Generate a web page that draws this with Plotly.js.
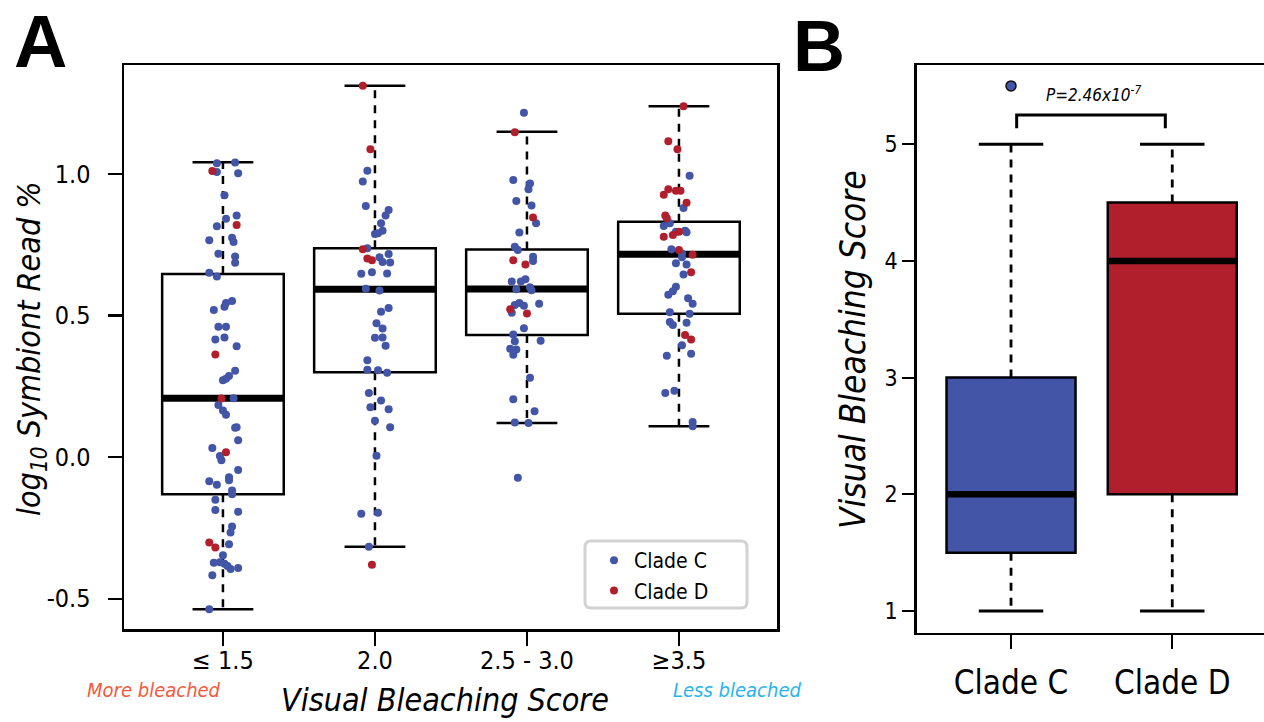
<!DOCTYPE html>
<html><head><meta charset="utf-8">
<script src="https://cdn.plot.ly/plotly-3.0.1.min.js"></script>
<style>html,body{margin:0;padding:0;background:#fff}#chart{width:1264px;height:722px}</style>
</head><body><div id="chart"></div>
<script>
// ---------- Panel A data ----------
const categories = ['≤ 1.5', '2.0', '2.5 - 3.0', '≥3.5'];
const boxQ1 = [-0.131, 0.299, 0.431, 0.506];
const boxMedian = [0.208, 0.592, 0.593, 0.716];
const boxQ3 = [0.646, 0.737, 0.733, 0.831];
const whiskerLow = [-0.537, -0.317, 0.120, 0.109];
const whiskerHigh = [1.041, 1.311, 1.148, 1.238];

// Clade C samples (log10 symbiont read %), with horizontal jitter
const cladeC_g1 = [1.037,1.040,1.006,1.002,0.924,0.853,0.841,0.815,0.774,0.765,0.759,0.718,0.708,0.686,0.651,0.637,0.551,0.544,0.531,0.519,0.460,0.460,0.415,0.422,0.391,0.305,0.286,0.276,0.271,0.208,0.184,0.164,0.149,0.103,0.105,0.059,0.032,0.004,-0.011,-0.046,-0.085,-0.071,-0.082,-0.098,-0.118,-0.131,-0.151,-0.187,-0.193,-0.245,-0.266,-0.308,-0.347,-0.373,-0.371,-0.377,-0.385,-0.395,-0.392,-0.417,-0.537];
const cladeC_g1_jitter = [-0.04,0.08,-0.04,0.10,0.01,0.09,0.02,-0.04,0.06,-0.09,0.07,-0.03,0.08,0.08,-0.09,-0.04,0.06,0.02,0.01,-0.06,-0.03,0.02,-0.05,0.01,0.09,0.08,0.04,0.02,0.00,0.07,-0.03,0.00,0.02,0.08,0.09,0.10,-0.07,-0.02,-0.01,0.10,-0.09,0.04,0.04,-0.04,0.06,0.06,-0.05,-0.05,0.10,0.06,0.05,0.04,0.00,-0.06,-0.02,0.01,0.03,0.05,0.10,-0.07,-0.09];
const cladeC_g2 = [1.011,0.973,0.886,0.872,0.853,0.825,0.799,0.787,0.790,0.737,0.705,0.689,0.717,0.687,0.647,0.652,0.648,0.594,0.588,0.526,0.513,0.472,0.454,0.421,0.422,0.393,0.342,0.308,0.306,0.298,0.226,0.200,0.176,0.169,0.128,0.105,0.005,-0.200,-0.197,-0.317];
const cladeC_g2_jitter = [-0.05,-0.08,-0.06,0.09,0.07,0.04,0.05,0.00,0.02,-0.05,0.03,0.05,0.09,0.10,-0.09,-0.02,0.08,-0.06,0.03,0.09,0.04,0.01,0.05,0.00,0.05,0.07,-0.05,-0.05,0.02,0.08,-0.04,0.04,-0.03,0.09,0.00,0.10,0.01,-0.09,0.02,-0.04];
const cladeC_g3 = [1.215,0.978,0.966,0.945,0.904,0.888,0.825,0.793,0.742,0.731,0.707,0.692,0.620,0.620,0.628,0.592,0.599,0.589,0.537,0.544,0.534,0.541,0.509,0.455,0.433,0.411,0.409,0.382,0.380,0.361,0.280,0.204,0.162,0.122,0.120,-0.073];
const cladeC_g3_jitter = [-0.02,-0.09,0.02,0.01,-0.07,0.03,0.06,-0.05,-0.08,-0.06,0.04,0.04,-0.10,-0.04,-0.01,-0.07,0.02,0.03,-0.08,-0.05,-0.02,0.08,-0.10,-0.02,-0.09,0.09,-0.08,-0.11,-0.07,-0.09,0.02,-0.09,0.05,-0.08,0.01,-0.06];
const cladeC_g4 = [0.993,0.879,0.825,0.816,0.795,0.799,0.794,0.734,0.719,0.705,0.684,0.680,0.644,0.601,0.585,0.573,0.561,0.541,0.511,0.506,0.477,0.474,0.466,0.395,0.365,0.358,0.226,0.234,0.124,0.109];
const cladeC_g4_jitter = [0.07,0.03,-0.06,-0.10,-0.02,0.04,0.05,-0.05,0.02,0.02,-0.02,0.05,0.03,-0.02,-0.04,-0.07,0.06,0.09,-0.06,0.07,-0.06,0.05,-0.04,0.02,0.08,-0.08,-0.09,-0.03,0.09,0.09];

// Clade D samples
const cladeD_g1 = [1.010,0.819,0.362,0.207,0.017,-0.302,-0.319];
const cladeD_g1_jitter = [-0.07,0.09,-0.05,-0.01,0.02,-0.09,-0.05];
const cladeD_g2 = [1.311,1.087,0.734,0.701,0.695,-0.380];
const cladeD_g2_jitter = [-0.08,-0.03,-0.08,-0.05,-0.02,-0.02];
const cladeD_g3 = [1.147,0.846,0.695,0.680,0.522,0.507];
const cladeD_g3_jitter = [-0.08,0.04,-0.09,-0.01,-0.11,0.00];
const cladeD_g4 = [1.238,1.115,1.087,0.945,0.940,0.940,0.926,0.898,0.853,0.843,0.795,0.778,0.784,0.731,0.714,0.652,0.431,0.415];
const cladeD_g4_jitter = [0.03,-0.07,-0.01,-0.07,-0.02,0.01,-0.10,0.05,-0.09,-0.08,0.00,-0.10,-0.04,0.00,0.09,0.08,0.04,0.08];

// ---------- Panel B data ----------
const clades = ['Clade C', 'Clade D'];
const vbsQ1 = [1.5, 2];
const vbsMedian = [2, 4];
const vbsQ3 = [3, 4.5];
const vbsLow = [1, 1];
const vbsHigh = [5, 5];
const vbsOutlierClade = [0];
const vbsOutlierValue = [5.5];
const pValueLabel = 'P=2.46x10<sup>-7</sup>';

// ---------- styling ----------
const FONT = "'DejaVu Sans Condensed', 'Liberation Sans Narrow', 'Liberation Sans', Arial, sans-serif";
const BLUE = '#4355a6';
const RED = '#b21f2c';

function lineTrace(x, y, xa, ya, width, dash) {
  return {type: 'scatter', mode: 'lines', x, y, xaxis: xa, yaxis: ya,
    line: {color: '#000', width, dash: dash || 'solid'}, hoverinfo: 'skip', showlegend: false};
}
function boxParts(pos, q1, med, q3, lo, hi, xa, ya, lw, medW) {
  const wx = [], wy = [], cx = [], cy = [], mx = [], my = [];
  pos.forEach((p, i) => {
    wx.push(p, p, null, p, p, null);
    wy.push(q3[i], hi[i], null, q1[i], lo[i], null);
    cx.push(p - 0.2, p + 0.2, null, p - 0.2, p + 0.2, null);
    cy.push(hi[i], hi[i], null, lo[i], lo[i], null);
    mx.push(p - 0.4, p + 0.4, null);
    my.push(med[i], med[i], null);
  });
  return [
    lineTrace(wx, wy, xa, ya, lw, '8px,7px'),
    lineTrace(cx, cy, xa, ya, lw),
    lineTrace(mx, my, xa, ya, medW)
  ];
}

const posA = categories.map((_, i) => i);
const posB = clades.map((_, i) => i);

const traces = [];
// Panel A boxes
traces.push({type: 'box', x: posA, q1: boxQ1, median: boxMedian, q3: boxQ3,
  lowerfence: boxQ1, upperfence: boxQ3, width: 0.8, whiskerwidth: 0,
  fillcolor: 'rgba(255,255,255,0)', line: {color: '#000', width: 2.5},
  boxpoints: false, hoverinfo: 'skip', showlegend: false, xaxis: 'x', yaxis: 'y'});
traces.push(...boxParts(posA, boxQ1, boxMedian, boxQ3, whiskerLow, whiskerHigh, 'x', 'y', 2.5, 7));

function jittered(groups, jitters) {
  const x = [], y = [];
  groups.forEach((g, gi) => g.forEach((v, k) => { x.push(gi + jitters[gi][k]); y.push(v); }));
  return {x, y};
}
const ptsC = jittered([cladeC_g1, cladeC_g2, cladeC_g3, cladeC_g4],
  [cladeC_g1_jitter, cladeC_g2_jitter, cladeC_g3_jitter, cladeC_g4_jitter]);
const ptsD = jittered([cladeD_g1, cladeD_g2, cladeD_g3, cladeD_g4],
  [cladeD_g1_jitter, cladeD_g2_jitter, cladeD_g3_jitter, cladeD_g4_jitter]);
traces.push({type: 'scatter', mode: 'markers', name: 'Clade C', x: ptsC.x, y: ptsC.y,
  marker: {color: BLUE, size: 8}, xaxis: 'x', yaxis: 'y'});
traces.push({type: 'scatter', mode: 'markers', name: 'Clade D', x: ptsD.x, y: ptsD.y,
  marker: {color: RED, size: 8}, xaxis: 'x', yaxis: 'y'});

// Panel B boxes
[BLUE, RED].forEach((c, i) => {
  traces.push({type: 'box', x: [posB[i]], q1: [vbsQ1[i]], median: [vbsMedian[i]], q3: [vbsQ3[i]],
    lowerfence: [vbsQ1[i]], upperfence: [vbsQ3[i]], width: 0.8, whiskerwidth: 0,
    fillcolor: c, line: {color: '#000', width: 2.5}, boxpoints: false,
    hoverinfo: 'skip', showlegend: false, xaxis: 'x2', yaxis: 'y2'});
});
traces.push(...boxParts(posB, vbsQ1, vbsMedian, vbsQ3, vbsLow, vbsHigh, 'x2', 'y2', 2.8, 6.5));
traces.push({type: 'scatter', mode: 'markers', x: vbsOutlierClade, y: vbsOutlierValue,
  marker: {color: BLUE, size: 10, line: {color: '#111', width: 1.5}},
  hoverinfo: 'skip', showlegend: false, xaxis: 'x2', yaxis: 'y2'});
// significance bracket between the two clades
const brTop = 5.25, brLeg = 5.136;
traces.push(lineTrace([posB[0] + 0.035, posB[0] + 0.035, posB[1] - 0.043, posB[1] - 0.043],
  [brLeg, brTop, brTop, brLeg], 'x2', 'y2', 3));

const W = 1264, H = 722;
const px = v => v / W, py = v => 1 - v / H;

// rounded legend frame (pixel box converted to paper fractions)
function roundRect(x0, y0, x1, y1, r) {
  const P = (x, y) => px(x) + ',' + py(y);
  return 'M' + P(x0 + r, y0) + ' L' + P(x1 - r, y0) + ' Q' + P(x1, y0) + ' ' + P(x1, y0 + r) +
    ' L' + P(x1, y1 - r) + ' Q' + P(x1, y1) + ' ' + P(x1 - r, y1) +
    ' L' + P(x0 + r, y1) + ' Q' + P(x0, y1) + ' ' + P(x0, y1 - r) +
    ' L' + P(x0, y0 + r) + ' Q' + P(x0, y0) + ' ' + P(x0 + r, y0) + ' Z';
}

const axisCommon = {showline: true, linecolor: '#000', linewidth: 2.5, ticks: 'outside',
  tickcolor: '#000', tickwidth: 2.2, showgrid: false, zeroline: false, fixedrange: true};

const layout = {
  width: W, height: H, margin: {l: 0, r: 0, t: 0, b: 0},
  paper_bgcolor: '#fff', plot_bgcolor: '#fff',
  font: {family: FONT, color: '#000'},
  showlegend: true,
  legend: {x: px(594), y: py(540), xanchor: 'left', yanchor: 'top',
    bgcolor: 'rgba(0,0,0,0)', borderwidth: 0,
    font: {family: FONT, size: 21, color: '#000'}, traceorder: 'normal'},
  shapes: [
    {type: 'path', xref: 'paper', yref: 'paper', path: roundRect(585, 541, 747, 608, 6),
      line: {color: '#d2d2d2', width: 3}, fillcolor: '#fff', layer: 'above'}
  ],
  xaxis: Object.assign({}, axisCommon, {domain: [px(124), px(777)], range: [-0.651, 3.645],
    mirror: true, tickvals: posA, ticktext: categories, ticklen: 14, ticklabelstandoff: -7,
    tickfont: {family: FONT, size: 25, color: '#000'}, anchor: 'y'}),
  yaxis: Object.assign({}, axisCommon, {domain: [py(629), py(65)], range: [-0.607, 1.384],
    mirror: true, tickvals: [-0.5, 0, 0.5, 1.0], ticktext: ['-0.5', '0.0', '0.5', '1.0'],
    ticklen: 14, ticklabelstandoff: 12, tickfont: {family: FONT, size: 25, color: '#000'}, anchor: 'x'}),
  xaxis2: Object.assign({}, axisCommon, {domain: [px(916.7), 1], range: [-0.585, 1.569],
    mirror: true, tickvals: posB, ticktext: clades, ticklen: 14, ticklabelstandoff: 5,
    tickfont: {family: FONT, size: 33, color: '#000'}, anchor: 'y2'}),
  yaxis2: Object.assign({}, axisCommon, {domain: [py(632.7), py(65)], range: [0.814, 5.679],
    mirror: false, tickvals: [1, 2, 3, 4, 5], ticklen: 12, ticklabelstandoff: 0,
    tickfont: {family: FONT, size: 23, color: '#000'}, anchor: 'x2'}),
  annotations: [
    {text: '<b>A</b>', xref: 'paper', yref: 'paper', x: px(12), y: py(41), xanchor: 'left', yanchor: 'middle',
      showarrow: false, font: {family: "'Liberation Sans', Arial, sans-serif", size: 74, color: '#000'}},
    {text: '<b>B</b>', xref: 'paper', yref: 'paper', x: px(791), y: py(46), xanchor: 'left', yanchor: 'middle',
      showarrow: false, font: {family: "'Liberation Sans', Arial, sans-serif", size: 72, color: '#000'}},
    {text: '<i>log<sub>10</sub> Symbiont Read %</i>', xref: 'paper', yref: 'paper', x: px(31), y: py(349),
      xanchor: 'center', yanchor: 'middle', textangle: -90, showarrow: false,
      font: {family: FONT, size: 32, color: '#000'}},
    {text: '<i>Visual Bleaching Score</i>', xref: 'paper', yref: 'paper', x: px(445), y: py(700),
      xanchor: 'center', yanchor: 'middle', showarrow: false, font: {family: FONT, size: 32, color: '#000'}},
    {text: '<i>More bleached</i>', xref: 'paper', yref: 'paper', x: px(154), y: py(690),
      xanchor: 'center', yanchor: 'middle', showarrow: false, font: {family: FONT, size: 20, color: '#f05a3c'}},
    {text: '<i>Less bleached</i>', xref: 'paper', yref: 'paper', x: px(737), y: py(690),
      xanchor: 'center', yanchor: 'middle', showarrow: false, font: {family: FONT, size: 20, color: '#27b4ec'}},
    {text: '<i>Visual Bleaching Score</i>', xref: 'paper', yref: 'paper', x: px(853), y: py(350),
      xanchor: 'center', yanchor: 'middle', textangle: -90, showarrow: false,
      font: {family: FONT, size: 35, color: '#000'}},
    {text: '<i>' + pValueLabel + '</i>', xref: 'x2', yref: 'y2', x: 0.51, y: 5.43,
      xanchor: 'center', yanchor: 'middle', showarrow: false, font: {family: FONT, size: 17, color: '#000'}}
  ]
};

Plotly.newPlot('chart', traces, layout, {displayModeBar: false, staticPlot: true});
</script></body></html>
